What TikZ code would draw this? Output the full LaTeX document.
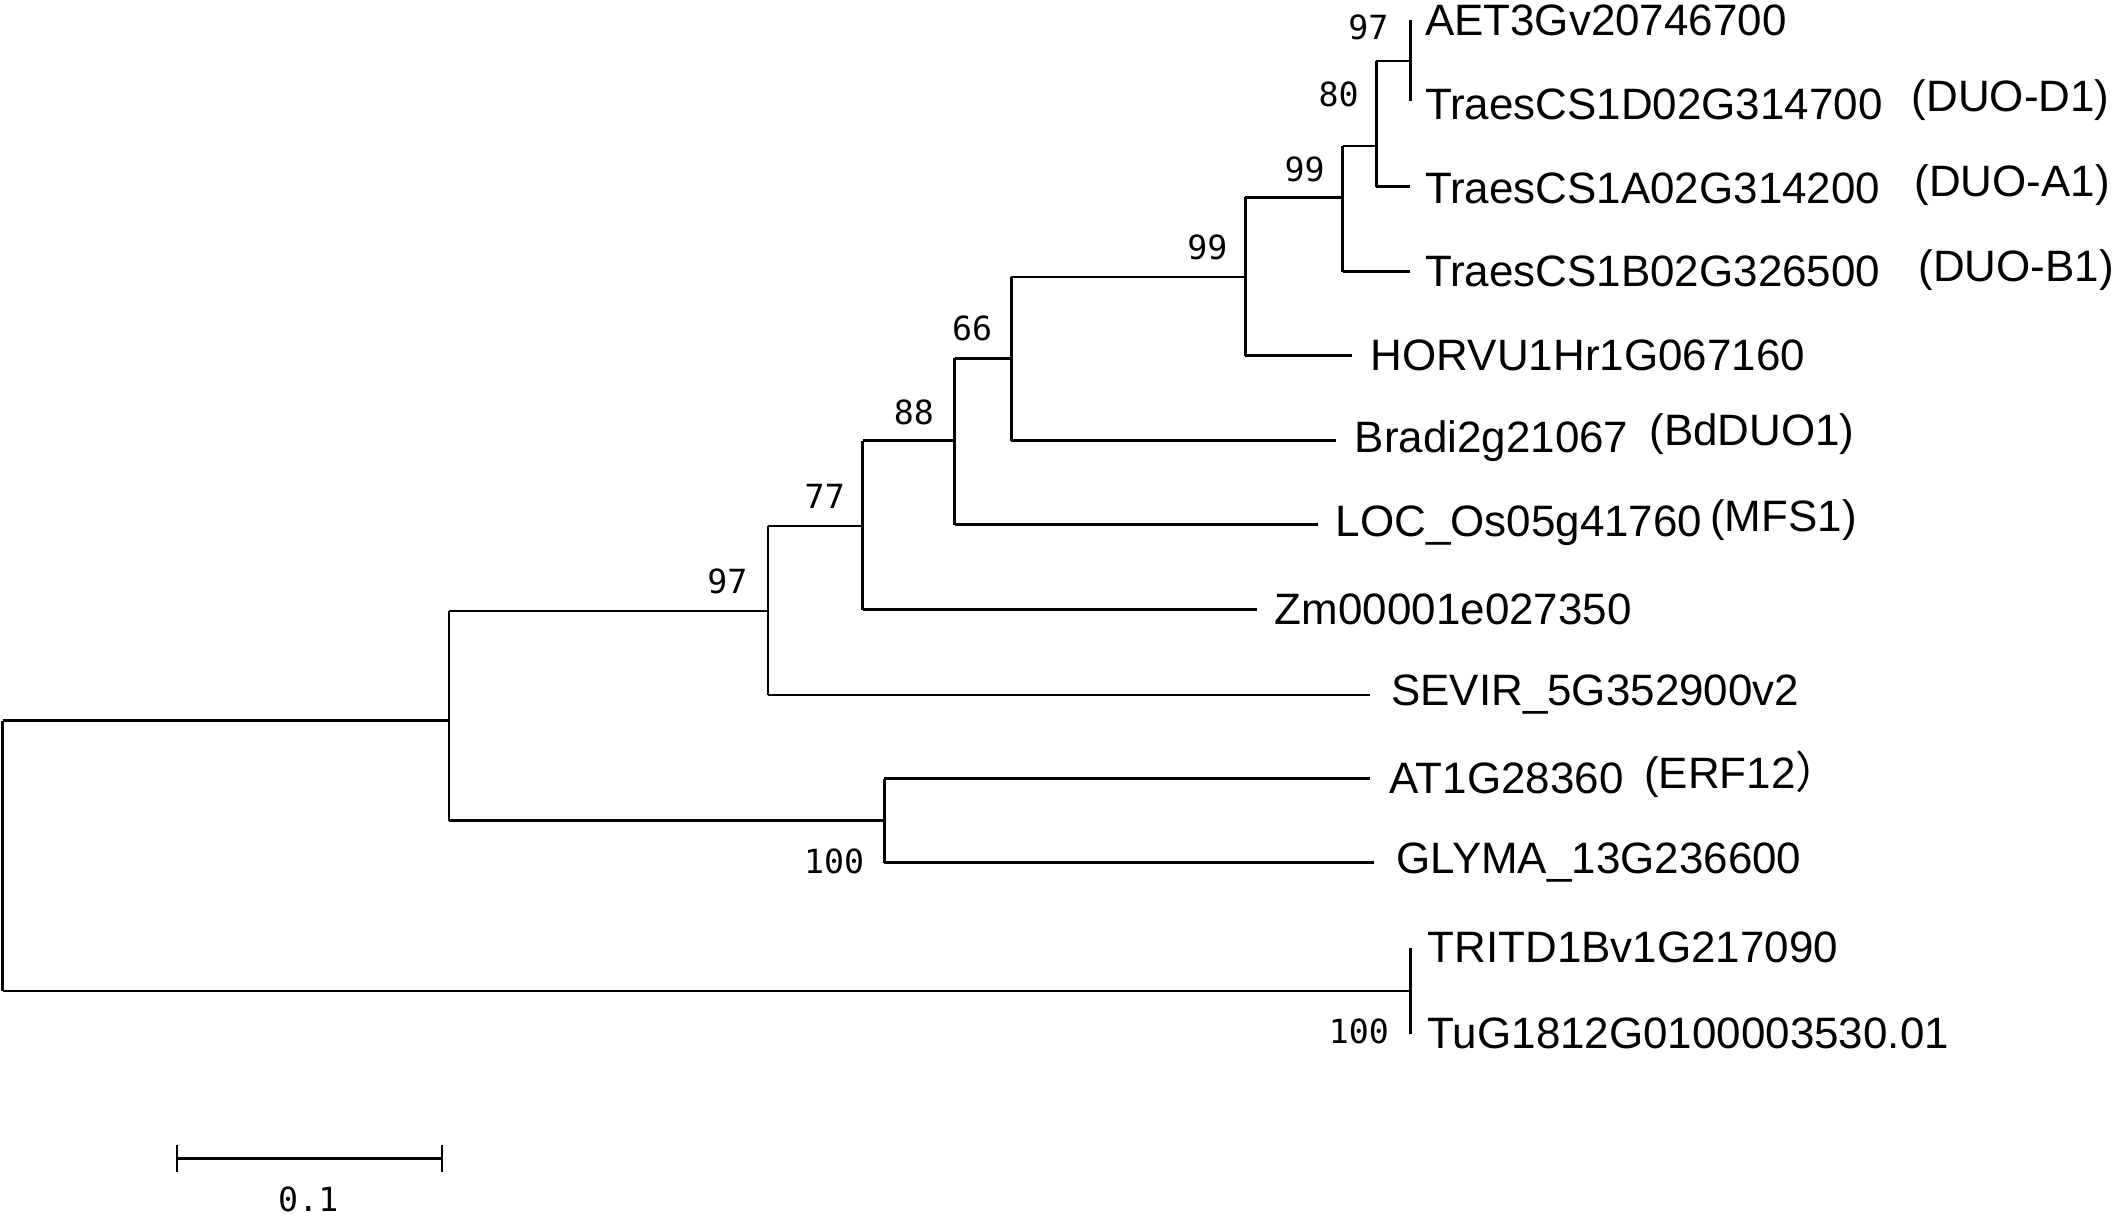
\documentclass[tikz,border=0pt]{standalone}
\usepackage{fontspec}
\setmainfont{Liberation Sans}
\newfontfamily\bsfont{DejaVu Sans Mono}
\newfontfamily\cjk{Noto Sans CJK SC}
\begin{document}
\begin{tikzpicture}[x=0.02cm,y=-0.02cm,line width=1.1pt,
 leaf/.style={anchor=west,inner sep=0pt,font=\fontsize{18.5}{18.5}\selectfont},
 bs/.style={inner sep=0pt,font=\bsfont\fontsize{14}{14}\selectfont}]
\useasboundingbox (0,0) rectangle (1568,899);
\draw (2,533) -- (2,733);
\draw (2,533) -- (332,533); \draw (2,733) -- (1043,733);
\draw (332,452) -- (332,607);
\draw (332,452) -- (568,452); \draw (332,607) -- (654,607);
\draw (568,389) -- (568,514); \draw (568,389) -- (638,389); \draw (568,514) -- (1013,514);
\draw (638,326) -- (638,451); \draw (638,326) -- (706,326); \draw (638,451) -- (930,451);
\draw (706,265) -- (706,388); \draw (706,265) -- (748,265); \draw (706,388) -- (975,388);
\draw (748,205) -- (748,326); \draw (748,205) -- (921,205); \draw (748,326) -- (988,326);
\draw (921,146) -- (921,263); \draw (921,146) -- (993,146); \draw (921,263) -- (1000,263);
\draw (993,108) -- (993,201); \draw (993,108) -- (1018,108); \draw (993,201) -- (1043,201);
\draw (1018,45) -- (1018,138); \draw (1018,45) -- (1043,45); \draw (1018,138) -- (1043,138);
\draw (1043,15) -- (1043,75);
\draw (654,576) -- (654,638); \draw (654,576) -- (1013,576); \draw (654,638) -- (1016,638);
\draw (1043,701) -- (1043,765);
\node[leaf] (l1) at (1053,15) {AET3Gv20746700};
\node[leaf] (l2) at (1053,77) {TraesCS1D02G314700};
\node[leaf] (l3) at (1053,139) {TraesCS1A02G314200};
\node[leaf] (l4) at (1053,201) {TraesCS1B02G326500};
\node[leaf] (l5) at (1013,263) {HORVU1Hr1G067160};
\node[leaf] (l6) at (1001,326) {Bradi2g21067};
\node[leaf] (l7) at (987,389) {LOC\_Os05g41760};
\node[leaf] (l8) at (942,451) {Zm00001e027350};
\node[leaf] (l9) at (1028,514) {SEVIR\_5G352900v2};
\node[leaf] (l10) at (1027,576) {AT1G28360};
\node[leaf] (l11) at (1032,638) {GLYMA\_13G236600};
\node[leaf] (l12) at (1055,701) {TRITD1Bv1G217090};
\node[leaf] (l13) at (1055,764) {TuG1812G0100003530.01};
\node[leaf] at (1413,74) {(DUO-D1)};
\node[leaf] at (1415,137) {(DUO-A1)};
\node[leaf] at (1418,200) {(DUO-B1)};
\node[leaf] at (1219,321) {(BdDUO1)};
\node[leaf] at (1264,385) {(MFS1)};
\node[leaf] at (1215,573) {(ERF12{\cjk ）}};
\node[bs] at (1012,20) {97};
\node[bs] at (990,70) {80};
\node[bs] at (965,125) {99};
\node[bs] at (893,183) {99};
\node[bs] at (719,243) {66};
\node[bs] at (676,305) {88};
\node[bs] at (610,367) {77};
\node[bs] at (538,430) {97};
\node[bs] at (617,637) {100};
\node[bs] at (1005,763) {100};
\draw (131,857) -- (327,857); \draw (131,847) -- (131,867); \draw (327,847) -- (327,867);
\node[bs] (sc) at (228,887) {0.1};
\end{tikzpicture}
\end{document}
